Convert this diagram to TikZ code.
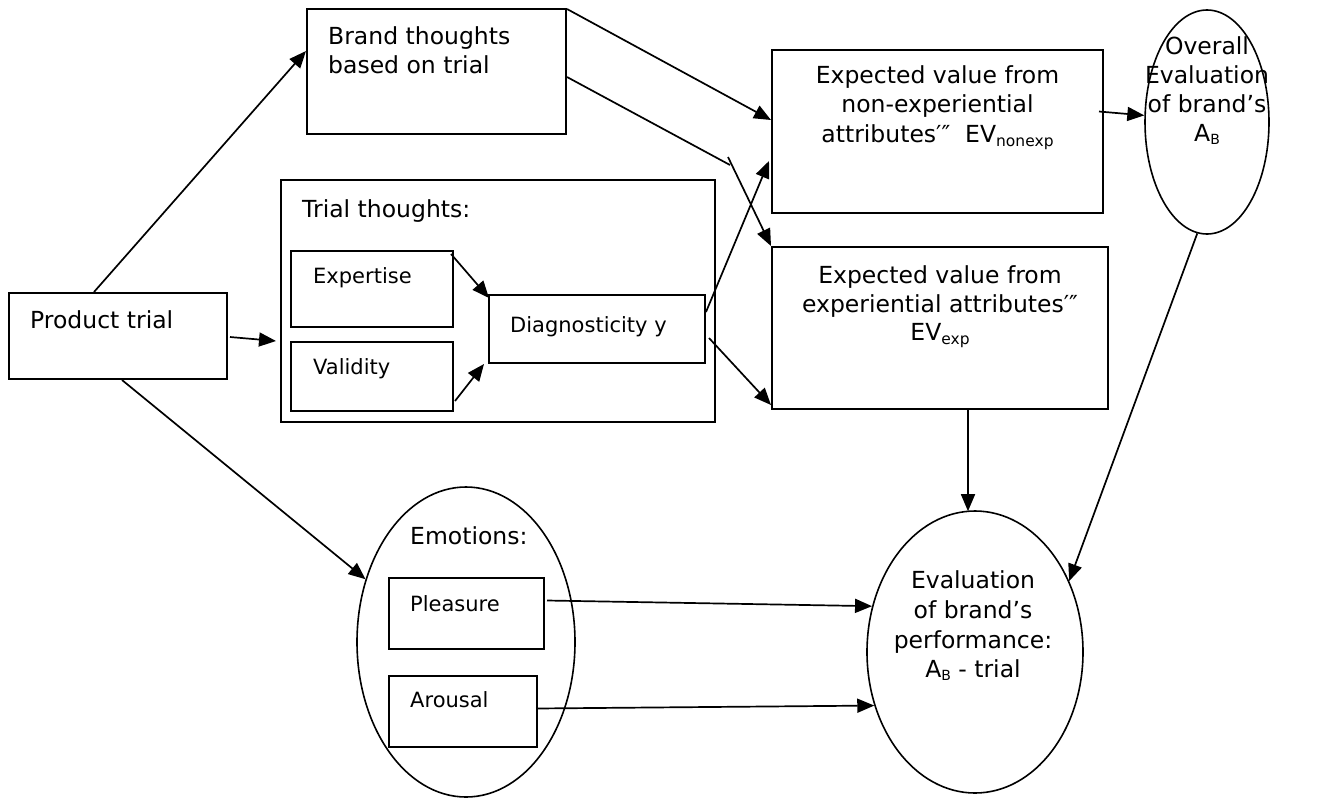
\documentclass[tikz,border=0pt]{standalone}
\usepackage{fontspec}
\setmainfont{DejaVu Sans}
\usetikzlibrary{shapes.geometric,arrows.meta,calc}
\newcommand{\mysub}[1]{\raisebox{-4pt}{\fontsize{15.5}{16}\selectfont #1}}
\newcommand{\mysubB}[1]{\raisebox{-3.5pt}{\fontsize{14}{15}\selectfont #1}}
\tikzset{
  box/.style={draw, line width=2pt, inner sep=0pt},
  ell/.style={draw, ellipse, line width=1.6pt, inner sep=0pt},
  big/.style={font=\fontsize{23.5}{29}\selectfont, inner sep=0pt},
  small/.style={font=\fontsize{21}{26}\selectfont, inner sep=0pt},
  arr/.style={line width=1.7pt, -{Triangle[length=17pt,width=14pt]}},
  ln/.style={line width=1.7pt},
}
\begin{document}
\begin{tikzpicture}[x=1pt,y=-1pt]
\useasboundingbox (0,0) rectangle (1317,801);
% boxes
\node[box, minimum width=218pt, minimum height=86pt] (pt) at (118,336) {};
\node[box, minimum width=259pt, minimum height=125pt] (bt) at (436.5,71.5) {};
\node[box, minimum width=434pt, minimum height=242pt] (tt) at (498,301) {};
\node[box, minimum width=162pt, minimum height=76pt] (ex) at (372,289) {};
\node[box, minimum width=162pt, minimum height=69pt] (va) at (372,376.5) {};
\node[box, minimum width=216pt, minimum height=68pt] (di) at (597,329) {};
\node[box, minimum width=331pt, minimum height=163pt] (evn) at (937.5,131.5) {};
\node[box, minimum width=336pt, minimum height=162pt] (eve) at (940,328) {};
\node[ell, minimum width=124pt, minimum height=224pt] (ov) at (1207,122) {};
\node[ell, minimum width=218pt, minimum height=310pt] (em) at (466,642) {};
\node[box, minimum width=155pt, minimum height=71pt] (pl) at (466.5,613.5) {};
\node[box, minimum width=148pt, minimum height=71pt] (ar) at (463,711.5) {};
\node[ell, minimum width=216pt, minimum height=282pt] (ev) at (975,652) {};
% texts
\node[big, anchor=base west] (tpt) at (30,328) {Product trial};
\node[big, anchor=base west] (tbt1) at (328,44) {Brand thoughts};
\node[big, anchor=base west] (tbt2) at (328,73) {based on trial};
\node[big, anchor=base west] (ttt) at (302,217) {Trial thoughts:};
\node[small, anchor=base west] (tex) at (313,283) {Expertise};
\node[small, anchor=base west] (tva) at (313,374) {Validity};
\node[small, anchor=base west] (tdi) at (510,332) {Diagnosticity y};
\node[big, anchor=base] (tevn1) at (937.5,83) {Expected value from};
\node[big, anchor=base] (tevn2) at (937.5,112) {non-experiential};
\node[big, anchor=base] (tevn3) at (937.5,142) {attributes′″\ \ EV\mysub{nonexp}};
\node[big, anchor=base] (teve1) at (940,283) {Expected value from};
\node[big, anchor=base] (teve2) at (940,312) {experiential attributes′″};
\node[big, anchor=base] (teve3) at (940,340) {EV\mysub{exp}};
\node[big, anchor=base] (tov1) at (1207,54) {Overall};
\node[big, anchor=base] (tov2) at (1207,83) {Evaluation};
\node[big, anchor=base] (tov3) at (1207,112) {of brand’s};
\node[big, anchor=base] (tov4) at (1207,141) {A\mysubB{B}};
\node[big, anchor=base west] (tem) at (410,544) {Emotions:};
\node[small, anchor=base west] (tpl) at (410,611) {Pleasure};
\node[small, anchor=base west] (tar) at (410,707) {Arousal};
\node[big, anchor=base] (tev1) at (973,588) {Evaluation};
\node[big, anchor=base] (tev2) at (973,618) {of brand’s};
\node[big, anchor=base] (tev3) at (973,648) {performance:};
\node[big, anchor=base] (tev4) at (973,677) {A\mysubB{B} - trial};
% connectors
\draw[arr] ($(pt.north west)+(86,0)$) -- ($(bt.north west)+(0,43)$);
\draw[arr] ($(pt.east)+(2,1)$) -- ($(tt.west)+(-4,40)$);
\draw[arr] ($(pt.south)+(4,0)$) -- (em.148);
\draw[arr] ($(bt.north east)+(0,1)$) -- ($(evn.north west)+(0,71)$);
\coordinate (k1) at (730,165);
\coordinate (k0) at (728,157);
\draw[ln] ($(bt.north east)+(0,69)$) -- (k1);
\draw[arr] (k0) -- (eve.north west);
\draw[arr] ($(di.north east)+(0,18)$) -- ($(evn.north west)+(-2,112)$);
\draw[arr] ($(di.east)+(3,9)$) -- ($(eve.south west)+(0,-5)$);
\draw[arr] ($(ex.north east)+(-3,4)$) -- ($(di.north west)+(1,4)$);
\draw[arr] ($(va.south east)+(1,-11)$) -- ($(di.south west)+(-4,0)$);
\draw[arr] ($(evn.east)+(-5,-20)$) -- (ov.174);
\draw[arr] ($(eve.south)+(28,0)$) -- ($(ev.north)+(-7,1)$);
\draw[arr] (ov.265) -- (ev.37);
\draw[arr] ($(pl.east)+(2,-13)$) -- (ev.156);
\draw[arr] ($(ar.east)+(-2,-3)$) -- (ev.208);
\end{tikzpicture}
\end{document}
